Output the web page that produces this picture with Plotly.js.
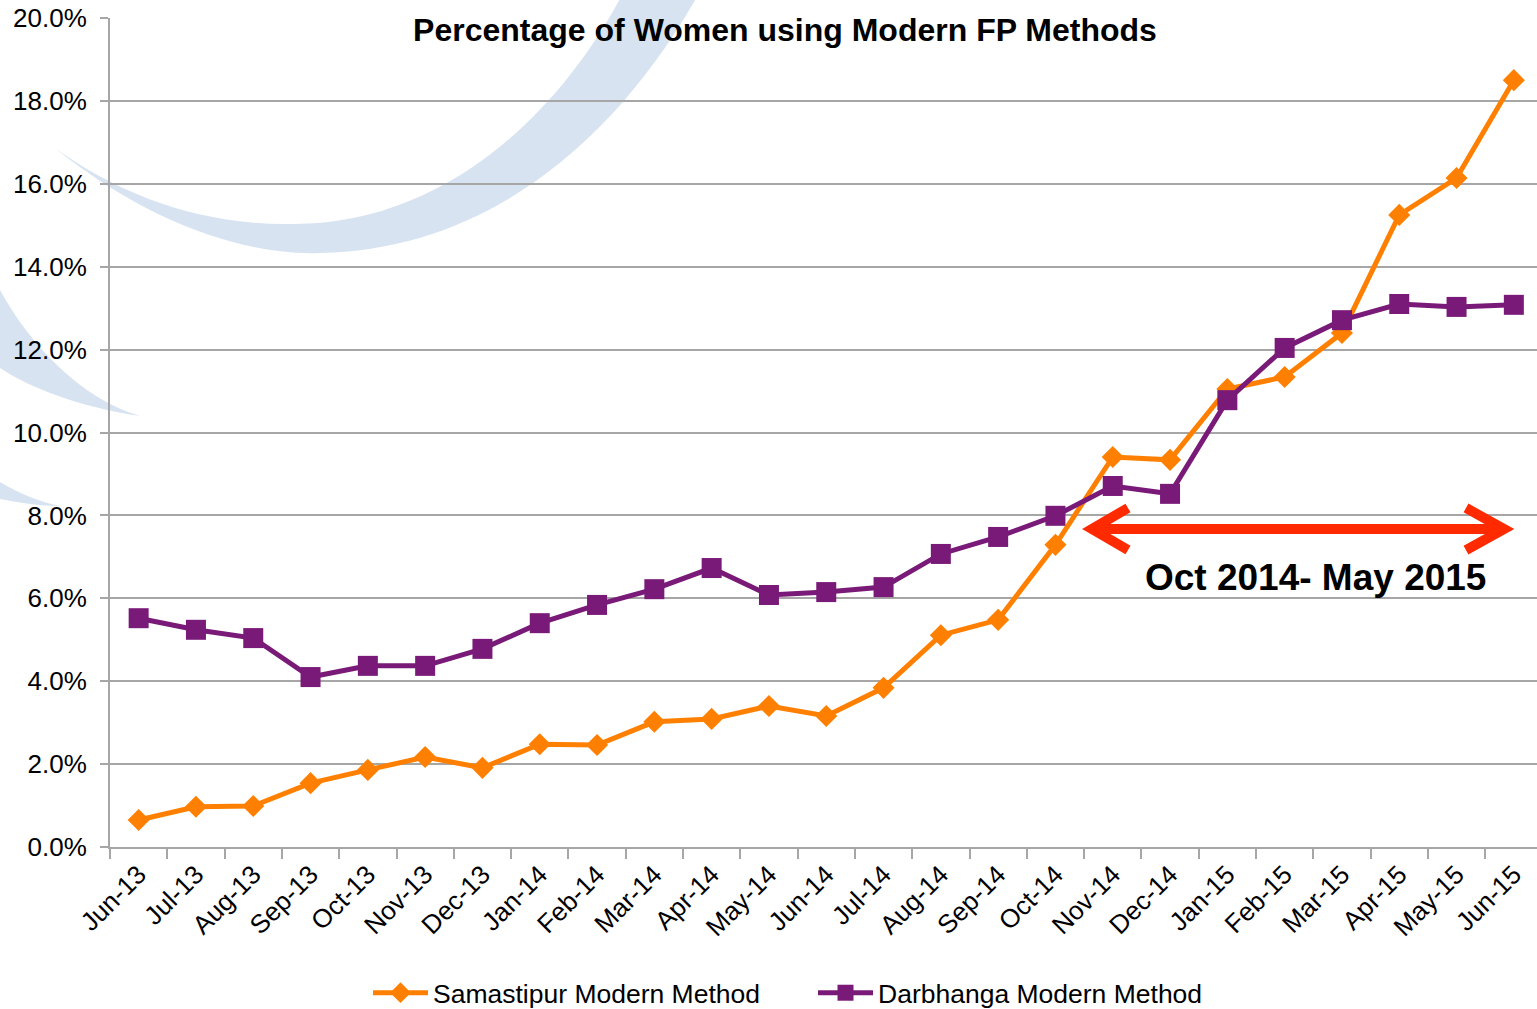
<!DOCTYPE html>
<html>
<head>
<meta charset="utf-8">
<script src="https://cdn.plot.ly/plotly-3.0.1.min.js"></script>
<style>
html,body{margin:0;padding:0;background:#fff;overflow:hidden;}
#chart{width:1537px;height:1009px;}
</style>
</head>
<body>
<div id="chart"></div>
<script>
// ---- data ----
const months = ["Jun-13","Jul-13","Aug-13","Sep-13","Oct-13","Nov-13","Dec-13",
  "Jan-14","Feb-14","Mar-14","Apr-14","May-14","Jun-14","Jul-14","Aug-14","Sep-14","Oct-14","Nov-14","Dec-14",
  "Jan-15","Feb-15","Mar-15","Apr-15","May-15","Jun-15"];
const samastipur = [0.65,0.97,0.99,1.54,1.86,2.17,1.91,2.48,2.46,3.02,3.09,3.40,3.16,3.84,5.11,5.48,7.29,9.41,9.34,11.05,11.34,12.40,15.25,16.14,18.50];
const darbhanga  = [5.52,5.24,5.04,4.10,4.37,4.37,4.78,5.40,5.84,6.22,6.73,6.08,6.15,6.27,7.07,7.48,7.99,8.71,8.52,10.78,12.04,12.71,13.10,13.03,13.08];
const seriesNames = ["Samastipur Modern Method","Darbhanga Modern Method"];
const chartTitle = "Percentage of Women using Modern FP Methods";
const periodLabel = "Oct 2014- May 2015";

// ---- layout helpers (pixel -> paper) ----
const W = 1537, H = 1009, ML = 110, MT = 18, MB = 162, MR = 0;
const PW = W - ML - MR, PH = H - MT - MB;
const px = x => (x - ML) / PW;
const py = y => (H - MB - y) / PH;
function pathFrom(cmds){
  return cmds.map(c => {
    const k = c[0]; const pts = [];
    for (let i = 1; i < c.length; i += 2) pts.push(px(c[i]).toFixed(5) + "," + py(c[i+1]).toFixed(5));
    return k + " " + pts.join(" ");
  }).join(" ");
}
const swooshColor = "rgba(208,222,239,0.85)";
const swoosh1 = pathFrom([["M",55,148],["C",150,225,250,256,320,253],["C",480,250,610,150,698,-5],["L",622,-5],["C",550,130,430,226,290,224],["C",200,225,120,195,55,148],["Z"]]);
const swoosh2 = pathFrom([["M",0,290],["C",30,345,80,398,140,416],["C",80,407,30,388,0,368],["Z"]]);
const swoosh3 = pathFrom([["M",0,482],["C",20,494,40,502,60,506],["C",40,506,20,503,0,499],["Z"]]);

const red = "#FF2A00";
const arrowY = 529;
const traces = [
  {x: months, y: samastipur, name: seriesNames[0], type: "scatter", mode: "lines+markers",
   line: {color: "#FF8000", width: 5}, marker: {symbol: "diamond", size: 17, color: "#FF8000"}},
  {x: months, y: darbhanga, name: seriesNames[1], type: "scatter", mode: "lines+markers",
   line: {color: "#7A1A78", width: 5}, marker: {symbol: "square", size: 20, color: "#7A1A78"}}
];

const FONT = "Liberation Sans, Arial, sans-serif";
const layout = {
  width: W, height: H,
  margin: {l: ML, r: MR, t: MT, b: MB},
  paper_bgcolor: "#fff", plot_bgcolor: "rgba(0,0,0,0)",
  font: {family: FONT, color: "#000"},
  title: {text: chartTitle, font: {size: 32, family: FONT, weight: "bold", color: "#000"},
          xref: "container", x: 785/W, xanchor: "center", yref: "container", y: 1 - 30/H, yanchor: "middle"},
  xaxis: {type: "category", range: [-0.5, 24.404], showgrid: false, showline: true, linecolor: "#A6A6A6", linewidth: 2,
          ticks: "outside", tickson: "boundaries", ticklen: 10, tickwidth: 2, tickcolor: "#A6A6A6",
          tickangle: -45, tickfont: {size: 26, color: "#000"}, fixedrange: true},
  yaxis: {range: [0, 20], dtick: 2, tickformat: ".1f", ticksuffix: "%", showgrid: true, gridcolor: "#A6A6A6", gridwidth: 2,
          showline: true, linecolor: "#A6A6A6", linewidth: 2, zeroline: false,
          ticks: "outside", ticklen: 8, tickwidth: 2, tickcolor: "#A6A6A6", ticklabelstandoff: 8,
          tickfont: {size: 26, color: "#000"}, fixedrange: true},
  showlegend: true,
  legend: {orientation: "h", xref: "container", yref: "container", x: 368/W, xanchor: "left", y: 1 - 993/H, yanchor: "middle",
           font: {size: 26.5, color: "#000"}, itemwidth: 55, entrywidth: 375, entrywidthmode: "pixels",
           tracegroupgap: 0, bgcolor: "rgba(0,0,0,0)"},
  shapes: [
    {type: "path", xref: "paper", yref: "paper", path: swoosh1, fillcolor: swooshColor, line: {width: 0}, layer: "below"},
    {type: "path", xref: "paper", yref: "paper", path: swoosh2, fillcolor: swooshColor, line: {width: 0}, layer: "below"},
    {type: "path", xref: "paper", yref: "paper", path: swoosh3, fillcolor: swooshColor, line: {width: 0}, layer: "below"},
    {type: "line", xref: "paper", yref: "paper", x0: px(1094), y0: py(arrowY), x1: px(1502), y1: py(arrowY), line: {color: red, width: 10}},
    {type: "path", xref: "paper", yref: "paper", path: pathFrom([["M",1128,508],["L",1092,arrowY],["L",1128,550]]), line: {color: red, width: 10}},
    {type: "path", xref: "paper", yref: "paper", path: pathFrom([["M",1466,508],["L",1504,arrowY],["L",1466,550]]), line: {color: red, width: 10}}
  ],
  annotations: [
    {text: periodLabel, xref: "paper", yref: "paper", x: px(1315), y: py(577), xanchor: "center", yanchor: "middle",
     showarrow: false, font: {size: 37, weight: "bold", color: "#000", family: FONT}}
  ]
};

Plotly.newPlot("chart", traces, layout, {displayModeBar: false, staticPlot: true});
</script>
</body>
</html>
